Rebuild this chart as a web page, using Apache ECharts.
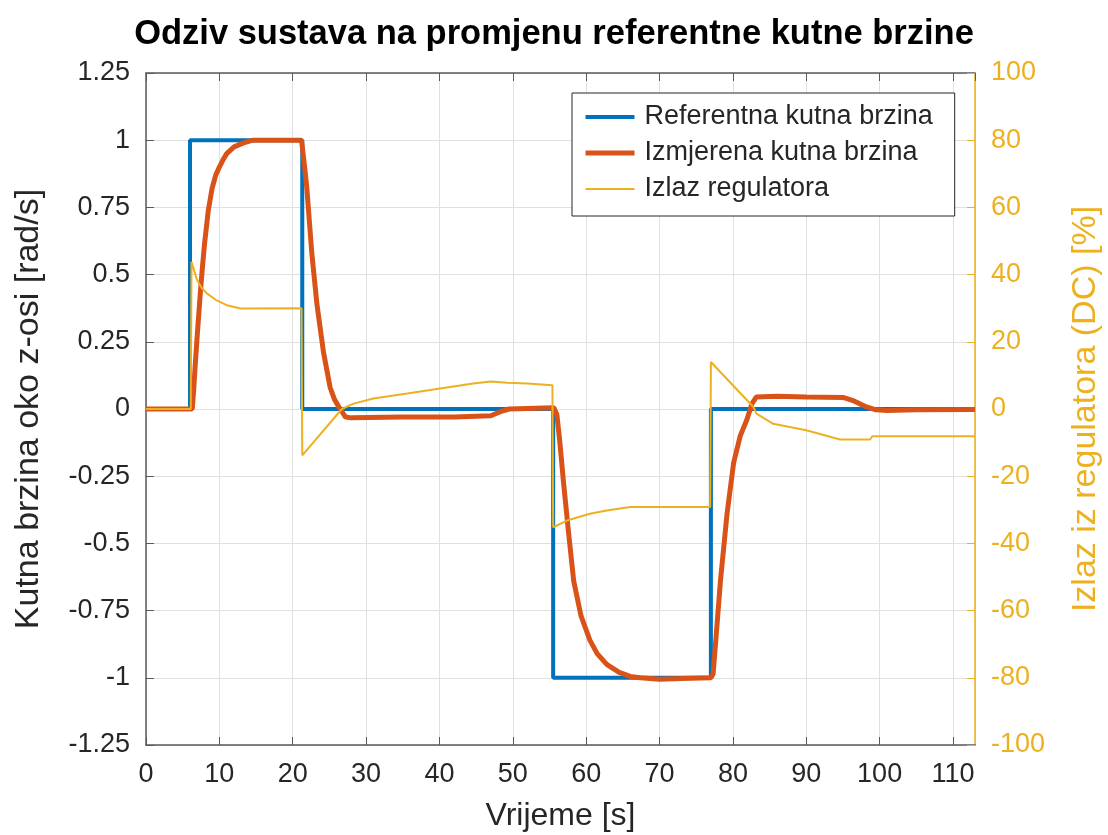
<!DOCTYPE html>
<html>
<head>
<meta charset="utf-8">
<script src="https://cdn.jsdelivr.net/npm/echarts@6/dist/echarts.min.js"></script>
<style>
  html, body { margin: 0; padding: 0; background: #fff; }
  #chart { width: 1108px; height: 835px; }
</style>
</head>
<body>
<div id="chart"></div>
<script>
// referentna kutna brzina (step signal)
const refT = [0, 6.0, 6.0, 21.3, 21.3, 55.5, 55.5, 77.0, 77.0, 113];
const refV = [0, 0, 1, 1, 0, 0, -1, -1, 0, 0];

// izmjerena kutna brzina
const measT = [0, 6.3, 6.5, 6.7, 7.0, 7.4, 7.7, 8.0, 8.5, 9.0, 9.5, 10.0, 10.5, 11.0, 12.0, 13.3, 14.6, 21.2,
  21.5, 21.9, 22.6, 23.3, 24.2, 25.1, 25.7, 26.3, 27.2, 28.0, 35.0, 42.0, 47.0, 48.3, 49.5, 55.6,
  56.0, 56.4, 56.9, 57.6, 58.3, 59.3, 60.5, 61.5, 62.8, 64.5, 66.0, 67.4, 70.0, 73.0, 77.0,
  77.3, 77.7, 78.3, 79.2, 80.1, 81.0, 81.9, 82.6, 83.2, 86.0, 90.0, 95.0, 96.5, 98.0, 99.5, 101, 105, 113];
const measV = [0, 0, 0.07, 0.16, 0.28, 0.43, 0.53, 0.62, 0.74, 0.82, 0.87, 0.9, 0.927, 0.95, 0.975, 0.99, 1.0, 1.0,
  0.93, 0.83, 0.58, 0.39, 0.21, 0.08, 0.035, 0.007, -0.03, -0.033, -0.03, -0.03, -0.025, -0.01, 0.0, 0.005,
  -0.02, -0.12, -0.27, -0.46, -0.64, -0.77, -0.86, -0.91, -0.95, -0.98, -0.995, -1.0, -1.005, -1.003, -1.0,
  -0.986, -0.85, -0.64, -0.39, -0.2, -0.1, -0.04, 0.02, 0.045, 0.047, 0.045, 0.043, 0.03, 0.01, -0.003, -0.006, -0.003, -0.002];

// izlaz regulatora [%]
const ctrlT = [0, 6.1, 6.2, 6.96, 7.6, 8.3, 9.5, 11.0, 12.9, 21.2, 21.3, 26.7, 28.3, 31.0,
  35.6, 40.1, 44.6, 47.0, 49.2, 52.0, 55.4, 55.5, 57.4, 60.5, 62.8, 66.0, 76.9, 77.0,
  82.8, 83.2, 85.5, 90.0, 94.6, 98.7, 99.0, 113];
const ctrlV = [0, 0, 43.8, 38.4, 36.0, 34.4, 32.5, 30.9, 29.9, 30.0, -13.8, 0, 1.6, 3.1,
  4.6, 6.1, 7.6, 8.2, 7.8, 7.6, 7.1, -35.2, -33.2, -31.2, -30.2, -29.2, -29.2, 14.0,
  0.6, -1.4, -4.4, -6.3, -9.1, -9.1, -8.1, -8.1];

const seriesNames = ['Referentna kutna brzina', 'Izmjerena kutna brzina', 'Izlaz regulatora'];

const pairs = (t, v) => t.map((x, i) => [x, v[i]]);

const dark = '#262626';
const yellow = '#EDB120';
const axisGray = '#5a5a5a';
const font = 'Liberation Sans, Arial, Helvetica, sans-serif';

const chart = echarts.init(document.getElementById('chart'));
chart.setOption({
  animation: false,
  backgroundColor: '#fff',
  title: {
    text: 'Odziv sustava na promjenu referentne kutne brzine',
    left: 'center',
    top: 12,
    textStyle: { fontFamily: font, fontSize: 34.5, fontWeight: 'bold', color: '#000' }
  },
  grid: { left: 146, right: 133, top: 73, bottom: 90, outerBoundsMode: 'none' },
  legend: {
    orient: 'vertical',
    left: 572,
    top: 93,
    padding: [9, 22, 12, 11],
    itemGap: 6,
    itemWidth: 49,
    itemHeight: 14,
    backgroundColor: '#fff',
    borderColor: dark,
    borderWidth: 1,
    borderRadius: 0,
    itemStyle: { opacity: 0 },
    lineStyle: { width: 'inherit' },
    textStyle: { fontFamily: font, fontSize: 27, color: dark, lineHeight: 30, padding: [0, 0, 0, 5] },
    data: seriesNames
  },
  xAxis: [{
    type: 'value',
    min: 0, max: 113, interval: 10,
    name: 'Vrijeme [s]',
    nameLocation: 'middle',
    nameGap: 55,
    nameTextStyle: { fontFamily: font, fontSize: 32, color: dark },
    axisLine: { onZero: false, lineStyle: { color: axisGray, width: 1.5 } },
    axisTick: { inside: true, length: 8, lineStyle: { color: axisGray } },
    axisLabel: { fontFamily: font, fontSize: 27, color: dark, margin: 16, showMaxLabel: false },
    splitLine: { show: true, lineStyle: { color: '#e0e0e0' } }
  }, {
    type: 'value',
    position: 'top',
    min: 0, max: 113, interval: 10,
    axisLine: { show: true, onZero: false, lineStyle: { color: axisGray, width: 1.5 } },
    axisTick: { inside: true, length: 8, lineStyle: { color: axisGray } },
    axisLabel: { show: false },
    splitLine: { show: false }
  }],
  yAxis: [{
    type: 'value',
    min: -1.25, max: 1.25, interval: 0.25,
    name: 'Kutna brzina oko z-osi [rad/s]',
    nameLocation: 'middle',
    nameGap: 100,
    nameTextStyle: { fontFamily: font, fontSize: 34, color: dark },
    axisLine: { show: true, onZero: false, lineStyle: { color: axisGray, width: 1.5 } },
    axisTick: { show: true, inside: true, length: 8, lineStyle: { color: axisGray } },
    axisLabel: { fontFamily: font, fontSize: 27, color: dark, margin: 16 },
    splitLine: { show: true, lineStyle: { color: '#e0e0e0' } }
  }, {
    type: 'value',
    position: 'right',
    min: -100, max: 100, interval: 20,
    name: 'Izlaz iz regulatora (DC) [%]',
    nameLocation: 'middle',
    nameGap: 94,
    nameRotate: 90,
    nameTextStyle: { fontFamily: font, fontSize: 34, color: yellow },
    axisLine: { show: true, onZero: false, lineStyle: { color: yellow, width: 1.5 } },
    axisTick: { show: true, inside: true, length: 8, lineStyle: { color: yellow } },
    axisLabel: { fontFamily: font, fontSize: 27, color: yellow, margin: 16 },
    splitLine: { show: false }
  }],
  series: [{
    name: seriesNames[0],
    type: 'line',
    xAxisIndex: 0, yAxisIndex: 0,
    data: pairs(refT, refV),
    symbol: 'none',
    lineStyle: { color: '#0072BD', width: 4 },
    itemStyle: { color: '#0072BD' },
    z: 2
  }, {
    name: seriesNames[1],
    type: 'line',
    xAxisIndex: 0, yAxisIndex: 0,
    data: pairs(measT, measV),
    symbol: 'none',
    lineStyle: { color: '#D95319', width: 5 },
    itemStyle: { color: '#D95319' },
    z: 3
  }, {
    name: seriesNames[2],
    type: 'line',
    xAxisIndex: 0, yAxisIndex: 1,
    data: pairs(ctrlT, ctrlV),
    symbol: 'none',
    lineStyle: { color: yellow, width: 2 },
    itemStyle: { color: yellow },
    z: 4
  }]
});
</script>
</body>
</html>
